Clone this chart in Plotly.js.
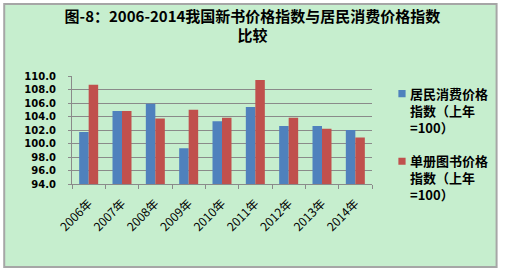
<!DOCTYPE html>
<html>
<head>
<meta charset="utf-8">
<script src="https://cdn.plot.ly/plotly-3.0.1.min.js"></script>
<style>
html,body{margin:0;padding:0;background:#fff;}
#chart{width:505px;height:273px;}
#chart .legend .legendpoints path{transform:translate(32px,-17px) scale(0.6);}
</style>
</head>
<body>
<div id="chart"></div>
<script>
var categories = ["2006年","2007年","2008年","2009年","2010年","2011年","2012年","2013年","2014年"];
var cpiIndex = [101.7, 104.8, 105.9, 99.3, 103.3, 105.4, 102.6, 102.6, 102.0];
var bookIndex = [108.7, 104.8, 103.7, 105.0, 103.8, 109.4, 103.8, 102.2, 100.9];
var seriesNames = ["居民消费价格<br>指数（上年<br>=100）", "单册图书价格<br>指数（上年<br>=100）"];
var yTicks = [94,96,98,100,102,104,106,108,110];

var cjk = '"Noto Sans CJK SC", "Liberation Sans", sans-serif';
var traces = [
  {type:'bar', x:categories, y:cpiIndex, name:seriesNames[0], legendgroup:'a',
   marker:{color:'#4F81BD'}},
  {type:'bar', x:categories, y:bookIndex, name:seriesNames[1], legendgroup:'b',
   marker:{color:'#C0504D'}}
];
var layout = {
  width:505, height:273,
  margin:{l:72, r:132, t:76, b:89},
  paper_bgcolor:'#ffffff',
  plot_bgcolor:'rgba(0,0,0,0)',
  barmode:'group', bargap:0.43, bargroupgap:0,
  title:{text:'图-8：2006-2014我国新书价格指数与居民消费价格指数<br>比较',
         font:{family:cjk, size:15, color:'#000', weight:'bold'},
         xref:'container', x:0.5, xanchor:'center', yref:'container', y:0.92, yanchor:'top'},
  xaxis:{type:'category', showline:true, linecolor:'#8A8A8A', linewidth:1,
         ticks:'outside', tickson:'boundaries', ticklen:4, tickcolor:'#8A8A8A',
         ticklabelstandoff:7,
         tickangle:-45, tickfont:{family:cjk, size:12, color:'#000'}, showgrid:false},
  yaxis:{range:[94,110], tickvals:yTicks, ticktext:yTicks.map(function(v){return v.toFixed(1);}),
         showline:true, linecolor:'#8A8A8A', linewidth:1, ticks:'outside', ticklen:3, tickcolor:'#8A8A8A',
         ticklabelstandoff:10,
         showgrid:true, gridcolor:'#8A8A8A', gridwidth:1, zeroline:false,
         tickfont:{family:'"DejaVu Sans", sans-serif', size:10, color:'#000', weight:'bold'}},
  legend:{x:0.99, xanchor:'left', y:0.975, yanchor:'top', bgcolor:'rgba(0,0,0,0)',
          traceorder:'grouped', tracegroupgap:14, maxheight:400,
          font:{family:cjk, size:13, color:'#000', weight:'bold'}},
  shapes:[{type:'rect', xref:'paper', yref:'paper', layer:'below',
           x0:(4-72)/301, x1:(498-72)/301, y0:(184-267)/108, y1:(184-4)/108,
           fillcolor:'#C6EECE', line:{color:'#A6A6A6', width:2}}]
};
Plotly.newPlot('chart', traces, layout, {displayModeBar:false, staticPlot:true});
</script>
</body>
</html>
